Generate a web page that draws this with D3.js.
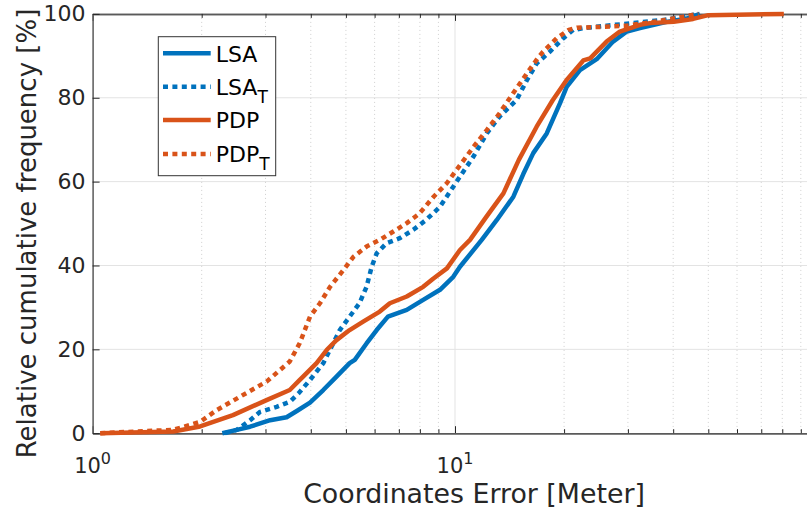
<!DOCTYPE html>
<html>
<head>
<meta charset="utf-8">
<script src="https://cdn.jsdelivr.net/npm/d3@7/dist/d3.min.js"></script>
<style>
  html, body { margin: 0; padding: 0; background: #fff; }
  svg { display: block; font-family: "DejaVu Sans", sans-serif; }
</style>
</head>
<body>
<svg id="chart" width="807" height="513"></svg>
<script>
// ---- Data ----
const lsaX = [2.28, 2.50, 2.72, 3.09, 3.43, 3.66, 3.98, 4.33, 4.71, 5.12, 5.29, 5.70, 6.08, 6.53, 7.36, 8.17, 9.09, 9.89, 10.32, 11.85, 13.03, 14.49, 15.43, 16.44, 17.91, 19.49, 20.33, 22.12, 24.6, 27.3, 29.8, 32.4, 38.4, 43.6, 47.4];
const lsaY = [0, 0.8, 1.55, 3.1, 3.8, 5.3, 7.3, 10.3, 13.5, 16.7, 17.5, 21.4, 24.6, 27.8, 29.4, 31.8, 34.2, 37.3, 39.7, 46.1, 50.8, 56.4, 61.8, 66.8, 71.5, 78.7, 82.6, 86.6, 89.2, 93.4, 95.8, 96.6, 98.1, 98.9, 100];

const lsaTX = [2.32, 2.50, 2.72, 2.90, 3.22, 3.50, 3.70, 3.98, 4.33, 4.61, 4.81, 5.12, 5.45, 5.70, 5.89, 6.08, 6.47, 7.04, 7.67, 8.33, 9.09, 9.89, 10.32, 11.23, 12.24, 13.27, 14.79, 15.79, 16.81, 18.28, 19.9, 21.2, 23.1, 26.2, 31.0, 38, 47];
const lsaTY = [0, 0.8, 3.1, 5.1, 6.3, 7.5, 9.5, 12.7, 16.7, 21.4, 24.6, 27.8, 31.0, 34.9, 39.7, 42.9, 45.3, 46.5, 48.5, 50.9, 54.0, 58.8, 61.2, 65.9, 71.5, 75.5, 79.5, 84.2, 88.2, 91.0, 94.2, 96.2, 96.7, 97.2, 97.8, 98.6, 100];

const pdpX = [1.05, 1.67, 1.98, 2.44, 3.02, 3.50, 3.73, 3.81, 4.15, 4.43, 4.71, 5.12, 5.58, 6.20, 6.61, 7.36, 8.17, 8.72, 9.50, 10.32, 11.0, 12.2, 13.6, 15.0, 16.8, 18.6, 20.3, 22.6, 23.6, 26.2, 28.5, 32.4, 34.5, 40.1, 45.4, 50.0, 80.8];
const pdpY = [0, 0.4, 1.6, 4.3, 7.9, 10.3, 12.7, 13.5, 16.7, 19.9, 22.2, 24.6, 26.6, 29.0, 31.0, 32.6, 34.9, 36.9, 39.3, 43.7, 46.1, 51.6, 57.2, 65.2, 73.1, 79.4, 84.2, 88.9, 89.4, 93.4, 95.8, 97.4, 97.8, 98.1, 98.8, 99.7, 100];

const pdpTX = [1.05, 1.67, 1.98, 2.20, 2.55, 3.02, 3.50, 3.73, 3.98, 4.24, 4.52, 4.92, 5.25, 5.70, 6.20, 6.76, 7.36, 7.98, 8.73, 9.49, 10.1, 11.25, 12.24, 13.27, 14.47, 15.79, 16.81, 17.5, 19.1, 20.6, 21.7, 25.2, 29.8, 36, 47];
const pdpTY = [0, 0.8, 2.7, 5.5, 8.7, 12.3, 17.1, 21.5, 27.8, 31.0, 34.9, 38.9, 42.1, 44.5, 46.1, 48.1, 50.1, 52.4, 56.4, 59.6, 62.8, 68.3, 72.3, 76.3, 81.1, 85.8, 89.1, 91.0, 94.2, 96.2, 96.7, 96.9, 97.2, 98.2, 100];

const seriesNames = ["LSA", "LSA", "PDP", "PDP"];
const seriesSubs = ["", "T", "", "T"];
const yTicks = [0, 20, 40, 60, 80, 100];
const xMajorTicks = [1, 10, 100];
const xLabelTicks = [1, 10];          // 10^2 lies beyond the visible edge
const xLabelExp = ["0", "1"];
const xMinorTicks = [2, 3, 4, 5, 6, 7, 8, 9, 20, 30, 40, 50, 60, 70, 80, 90];
const xTitle = "Coordinates Error [Meter]";
const yTitle = "Relative cumulative frequency [%]";

// ---- Layout ----
const svg = d3.select("#chart");
const L = 92.6, R = 817.4, T = 13.9, B = 433.2;
const x = d3.scaleLog().domain([1, 100]).range([L, R]);
const y = d3.scaleLinear().domain([0, 100]).range([B, T]);

const blue = "#0072BD", orange = "#D95319";
const textCol = "#262626", axisCol = "#5a5a5a";

const series = [
  { xs: lsaX, ys: lsaY, color: blue, dash: null },
  { xs: lsaTX, ys: lsaTY, color: blue, dash: "5,4.4" },
  { xs: pdpX, ys: pdpY, color: orange, dash: null },
  { xs: pdpTX, ys: pdpTY, color: orange, dash: "5,4.4" }
];

// grid
const grid = svg.append("g");
grid.selectAll("line.hg").data(yTicks.filter(v => v > 0 && v < 100)).join("line")
  .attr("x1", L).attr("x2", 807).attr("y1", d => y(d)).attr("y2", d => y(d))
  .attr("stroke", "#e3e3e3").attr("stroke-width", 1);
grid.selectAll("line.vg").data([10]).join("line")
  .attr("x1", d => x(d)).attr("x2", d => x(d)).attr("y1", T).attr("y2", B)
  .attr("stroke", "#e3e3e3").attr("stroke-width", 1);
grid.selectAll("line.mg").data(xMinorTicks).join("line")
  .attr("x1", d => x(d)).attr("x2", d => x(d)).attr("y1", T).attr("y2", B)
  .attr("stroke", "#cfcfcf").attr("stroke-width", 1).attr("stroke-dasharray", "1,3");

// axes
function styleAxis(g) {
  g.select(".domain").attr("stroke", axisCol).attr("stroke-width", 1.5);
  g.selectAll(".tick line").attr("stroke", textCol).attr("stroke-width", 1);
}
const xAxisB = svg.append("g").attr("transform", `translate(0,${B})`)
  .call(d3.axisBottom(x).tickValues(xMajorTicks).tickSize(-7).tickSizeOuter(0).tickFormat(""));
styleAxis(xAxisB);
const xAxisBm = svg.append("g").attr("transform", `translate(0,${B})`)
  .call(d3.axisBottom(x).tickValues(xMinorTicks).tickSize(-4).tickSizeOuter(0).tickFormat(""));
styleAxis(xAxisBm);
const xAxisT = svg.append("g").attr("transform", `translate(0,${T})`)
  .call(d3.axisTop(x).tickValues(xMajorTicks).tickSize(-7).tickSizeOuter(0).tickFormat(""));
styleAxis(xAxisT);
const xAxisTm = svg.append("g").attr("transform", `translate(0,${T})`)
  .call(d3.axisTop(x).tickValues(xMinorTicks).tickSize(-4).tickSizeOuter(0).tickFormat(""));
styleAxis(xAxisTm);
const yAxis = svg.append("g").attr("transform", `translate(${L},0)`)
  .call(d3.axisLeft(y).tickValues(yTicks).tickSize(-7).tickSizeOuter(0).tickPadding(7));
styleAxis(yAxis);
yAxis.selectAll(".tick text").attr("font-size", 22).attr("fill", textCol)
  .attr("font-family", "DejaVu Sans");

// x tick labels with superscripts
const xl = svg.append("g").attr("fill", textCol).attr("font-size", 21);
xLabelTicks.forEach((v, i) => {
  const t = xl.append("text").attr("x", x(v)).attr("y", 473).attr("text-anchor", "middle");
  t.append("tspan").text("10");
  t.append("tspan").attr("dy", -9).attr("font-size", 16).text(xLabelExp[i]);
});

// titles
svg.append("text").attr("x", 474).attr("y", 503).attr("text-anchor", "middle")
  .attr("font-size", 26.8).attr("fill", textCol).text(xTitle);
svg.append("text").attr("transform", "translate(36,233.5) rotate(-90)").attr("text-anchor", "middle")
  .attr("font-size", 26).attr("fill", textCol).text(yTitle);

// lines
const line = d3.line().x(d => x(d[0])).y(d => y(d[1]));
series.forEach(s => {
  const pts = s.xs.map((v, i) => [v, s.ys[i]]);
  svg.append("path").datum(pts).attr("d", line)
    .attr("fill", "none").attr("stroke", s.color).attr("stroke-width", 4.5)
    .attr("stroke-linejoin", "round")
    .attr("stroke-dasharray", s.dash);
});

// legend
const lg = svg.append("g");
lg.append("rect").attr("x", 158.3).attr("y", 36.7).attr("width", 117.4).attr("height", 139)
  .attr("fill", "#fff").attr("stroke", "#333").attr("stroke-width", 1);
const rowY = [53.3, 86.7, 120, 154];
series.forEach((s, i) => {
  lg.append("line").attr("x1", 163).attr("x2", 210.7).attr("y1", rowY[i]).attr("y2", rowY[i])
    .attr("stroke", s.color).attr("stroke-width", 4.5).attr("stroke-dasharray", s.dash);
  const t = lg.append("text").attr("x", 215.7).attr("y", rowY[i] + 8.3)
    .attr("font-size", 22).attr("fill", "#000");
  t.append("tspan").text(seriesNames[i]);
  if (seriesSubs[i]) t.append("tspan").attr("dy", 8).attr("font-size", 17).text(seriesSubs[i]);
});
</script>
</body>
</html>
